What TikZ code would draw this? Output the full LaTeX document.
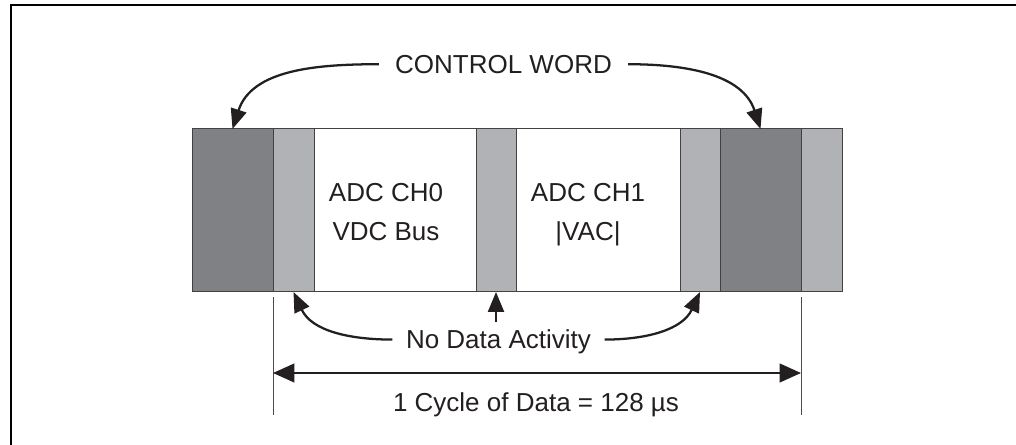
\documentclass[tikz,border=0pt]{standalone}
\usepackage{fontspec}
\setmainfont{Liberation Sans}
\usepackage{xcolor}
\usetikzlibrary{arrows.meta}
\definecolor{segdark}{RGB}{128,129,133}
\definecolor{seglight}{RGB}{177,178,182}
\definecolor{ink}{RGB}{35,31,32}

\begin{document}
\begin{tikzpicture}[x=0.75pt,y=0.75pt,
        font=\fontsize{19.5pt}{29pt}\selectfont,
        seg/.style={draw=ink!85, line width=0.75pt, inner sep=0pt, outer sep=0pt,
            minimum height=122.25pt, anchor=south west},
        darkseg/.style={seg, fill=segdark},
        lightseg/.style={seg, fill=seglight},
        dataseg/.style={seg, fill=white},
        note/.style={inner ysep=6pt, text depth=0pt, text=ink},
        txt/.style={inner sep=0pt, text=ink},
        curv/.style={line width=1.7pt, draw=ink, -{Triangle[length=15pt,width=12pt]}},
        dim/.style={line width=1.5pt, draw=ink,
            {Triangle[length=16pt,width=14pt]}-{Triangle[length=16pt,width=14pt]}},
        ext/.style={line width=0.75pt, draw=ink!80}]
    \useasboundingbox (0,0) rectangle (1016,445);
    \draw[line width=1.5pt] (11,0) -- (11,440) -- (1016,440);

    % one frame of the serial stream
    \node[darkseg, minimum width=60.75pt] (s1) at (192,153) {};
    \node[lightseg, minimum width=30.75pt] (s2) at (273,153) {};
    \node[dataseg, minimum width=121.5pt] (s3) at (314,153) {};
    \node[lightseg, minimum width=30pt] (s4) at (476,153) {};
    \node[dataseg, minimum width=123pt] (s5) at (516,153) {};
    \node[lightseg, minimum width=30pt] (s6) at (680,153) {};
    \node[darkseg, minimum width=60.75pt] (s7) at (720,153) {};
    \node[lightseg, minimum width=30.75pt] (s8) at (801,153) {};

    \node[txt, anchor=north, align=center] (ch0) at (386,262) {ADC CH0\\VDC Bus};
    \node[txt, anchor=north, align=center] (ch1) at (588,262) {ADC CH1\\|VAC|};

    % labels and pointers
    \node[note, anchor=base, inner xsep=12pt] (cw) at (503.5,371.7) {CONTROL WORD};
    \node[note, anchor=base, inner xsep=10pt] (nd) at (498.5,96) {No Data Activity};

    \draw[curv] (cw.west) to[out=180,in=72] (s1.north);
    \draw[curv] (cw.east) to[out=0,in=108] (s7.north);
    \draw[curv] (nd.west) to[out=180,in=-65] (s2.south);
    \draw[curv] (nd.east) to[out=0,in=-115] (s6.south);
    \draw[curv] (s4.south |- nd.north) -- (s4.south);

    % cycle length
    \coordinate (ea) at (273,30);
    \coordinate (eb) at (801,30);
    \coordinate (da) at (273,72);
    \coordinate (db) at (801,72);
    \draw[ext] ([yshift=-3.75pt]s1.south east) -- (ea);
    \draw[ext] ([yshift=-3.75pt]s7.south east) -- (eb);
    \draw[dim] (da) -- (db);
    \node[txt, anchor=base] (cyc) at (536,33.3) {1 Cycle of Data = 128 µs};
\end{tikzpicture}
\end{document}
